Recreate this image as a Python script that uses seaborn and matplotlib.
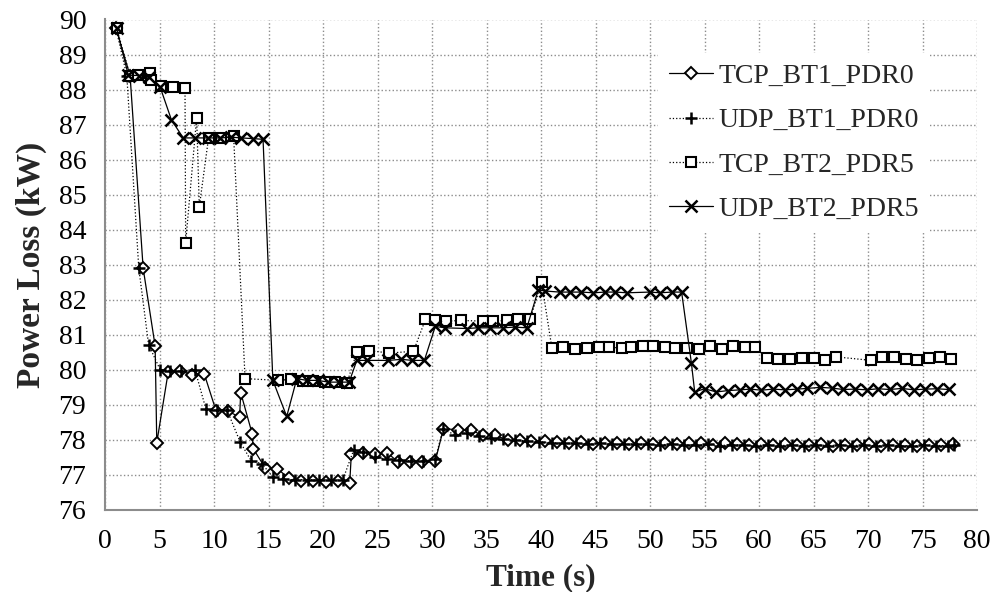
import matplotlib
matplotlib.use("Agg")
import matplotlib.pyplot as plt
import seaborn as sns
import pandas as pd
import numpy as np

# ---------------- data ----------------
series_names = ["TCP_BT1_PDR0", "UDP_BT1_PDR0", "TCP_BT2_PDR5", "UDP_BT2_PDR5"]

tcp1_t = [1.0, 2.3, 3.5, 4.6, 4.75, 5.8, 6.9, 7.95, 9.1, 10.2,
          11.3, 12.35, 12.45, 13.5, 13.6, 14.7, 15.8, 16.9, 18.0, 19.1,
          20.3, 21.4, 22.45, 22.6, 23.7, 24.8, 25.9, 26.9, 28.0, 29.1,
          30.3, 31.05, 32.4, 33.6, 34.7, 35.8, 37.0, 38.1, 39.1, 40.4,
          41.5, 42.6, 43.7, 44.8, 45.9, 47.0, 48.1, 49.2, 50.3, 51.4,
          52.5, 53.6, 54.7, 55.8, 56.9, 58.0, 59.1, 60.2, 61.3, 62.4,
          63.5, 64.6, 65.7, 66.8, 67.9, 69.0, 70.1, 71.2, 72.3, 73.4,
          74.5, 75.6, 76.7, 77.8]
tcp1_v = [89.75, 88.4, 82.9, 80.68, 77.92, 79.94, 79.97, 79.86, 79.89, 78.82,
          78.82, 78.65, 79.35, 78.18, 77.75, 77.2, 77.18, 76.9, 76.82, 76.84,
          76.79, 76.84, 76.76, 77.6, 77.63, 77.6, 77.63, 77.37, 77.37, 77.37,
          77.4, 78.32, 78.29, 78.27, 78.13, 78.13, 77.99, 77.99, 77.97, 77.97,
          77.93, 77.9, 77.93, 77.88, 77.92, 77.9, 77.88, 77.9, 77.87, 77.9,
          77.88, 77.92, 77.9, 77.85, 77.9, 77.88, 77.86, 77.88, 77.85, 77.87,
          77.86, 77.85, 77.88, 77.84, 77.86, 77.85, 77.87, 77.84, 77.85, 77.86,
          77.84, 77.85, 77.86, 77.87]

udp1_t = [1.0, 2.0, 3.1, 4.0, 5.05, 6.0, 7.0, 8.25, 9.27, 10.3,
          11.2, 12.4, 13.4, 14.4, 15.4, 16.3, 17.4, 18.6, 19.6, 20.7,
          21.8, 22.8, 23.7, 24.8, 25.9, 27.0, 28.1, 29.2, 30.3, 31.0,
          32.1, 33.2, 34.3, 35.4, 36.5, 37.6, 38.7, 39.8, 41.0, 42.1,
          43.2, 44.3, 45.4, 46.5, 47.6, 48.7, 49.8, 50.9, 52.0, 53.1,
          54.2, 55.3, 56.4, 57.5, 58.6, 59.7, 60.8, 61.9, 63.0, 64.1,
          65.2, 66.3, 67.4, 68.5, 69.6, 70.7, 71.8, 72.9, 74.0, 75.1,
          76.2, 77.3, 77.9]
udp1_v = [89.75, 88.4, 82.9, 80.72, 80.01, 79.98, 79.97, 80.01, 78.87, 78.85,
          78.85, 77.94, 77.41, 77.32, 76.94, 76.88, 76.86, 76.87, 76.85, 76.86,
          76.85, 77.7, 77.65, 77.5, 77.45, 77.42, 77.4, 77.4, 77.45, 78.3,
          78.15, 78.2, 78.1, 78.05, 78.02, 78.0, 77.97, 77.95, 77.92, 77.9,
          77.9, 77.88, 77.9, 77.88, 77.87, 77.88, 77.87, 77.86, 77.88, 77.86,
          77.85, 77.87, 77.84, 77.86, 77.85, 77.84, 77.86, 77.84, 77.85, 77.84,
          77.86, 77.84, 77.85, 77.84, 77.85, 77.83, 77.85, 77.84, 77.83, 77.85,
          77.84, 77.84, 77.85]

tcp2_t = [1.07, 2.3, 3.06, 4.1, 4.2, 5.1, 6.27, 7.34, 7.4, 8.41,
          8.65, 9.5, 10.6, 11.8, 12.85, 15.9, 17.1, 18.2, 19.1, 20.2,
          21.1, 22.2, 23.1, 24.2, 26.1, 28.3, 29.4, 30.3, 31.3, 32.7,
          34.7, 35.6, 36.9, 37.9, 39.0, 40.05, 41.0, 42.0, 43.1, 44.2,
          45.3, 46.2, 47.4, 48.3, 49.4, 50.3, 51.4, 52.3, 53.4, 54.5,
          55.5, 56.6, 57.6, 58.7, 59.6, 60.7, 61.7, 62.8, 63.9, 65.0,
          66.1, 67.1, 70.3, 71.3, 72.4, 73.5, 74.5, 75.6, 76.6, 77.6]
tcp2_v = [89.75, 88.4, 88.41, 88.46, 88.27, 88.1, 88.08, 88.05, 83.63, 87.2,
          84.65, 86.62, 86.62, 86.67, 79.75, 79.7, 79.73, 79.67, 79.67, 79.64,
          79.64, 79.63, 80.5, 80.55, 80.48, 80.53, 81.44, 81.41, 81.39, 81.41,
          81.39, 81.39, 81.41, 81.46, 81.44, 82.51, 80.62, 80.65, 80.6, 80.62,
          80.65, 80.65, 80.62, 80.65, 80.67, 80.68, 80.65, 80.62, 80.62, 80.6,
          80.67, 80.6, 80.67, 80.65, 80.65, 80.35, 80.32, 80.32, 80.35, 80.35,
          80.29, 80.37, 80.27, 80.37, 80.37, 80.32, 80.27, 80.35, 80.37, 80.32]

udp2_t = [1.07, 2.14, 3.1, 4.0, 5.05, 6.1, 7.18, 8.26, 9.48, 10.55,
          11.6, 12.5, 13.6, 14.5, 15.4, 16.67, 17.6, 18.5, 19.5, 20.5,
          21.5, 22.4, 23.1, 24.0, 26.0, 27.2, 28.2, 29.3, 30.3, 31.2,
          33.2, 34.2, 35.3, 36.5, 37.6, 38.7, 39.75, 40.4, 41.7, 42.7,
          43.7, 44.8, 45.9, 46.8, 47.9, 50.0, 50.9, 52.0, 52.9, 53.8,
          54.1, 55.0, 56.1, 57.2, 58.3, 59.2, 60.2, 61.3, 62.4, 63.5,
          64.4, 65.6, 66.7, 67.7, 68.8, 69.9, 70.9, 72.0, 73.1, 74.2,
          75.2, 76.3, 77.4]
udp2_v = [89.75, 88.41, 88.4, 88.35, 88.08, 87.13, 86.62, 86.62, 86.62, 86.62,
          86.64, 86.62, 86.6, 86.58, 79.7, 78.67, 79.75, 79.7, 79.7, 79.65,
          79.65, 79.65, 80.27, 80.27, 80.27, 80.3, 80.27, 80.27, 81.24, 81.2,
          81.18, 81.2, 81.2, 81.2, 81.22, 81.2, 82.28, 82.25, 82.22, 82.22,
          82.22, 82.2, 82.22, 82.22, 82.2, 82.22, 82.2, 82.22, 82.22, 80.19,
          79.37, 79.46, 79.37, 79.41, 79.43, 79.45, 79.42, 79.45, 79.43, 79.45,
          79.47, 79.5, 79.48, 79.44, 79.45, 79.43, 79.46, 79.44, 79.47, 79.43,
          79.45, 79.46, 79.44]

x_ticks = list(range(0, 81, 5))
y_ticks = list(range(76, 91, 1))

# ---------------- styling ----------------
sns.set_theme(style="white")
plt.rcParams["font.family"] = ["Liberation Serif", "DejaVu Serif"]

frames = []
for name, t, v in zip(series_names,
                      [tcp1_t, udp1_t, tcp2_t, udp2_t],
                      [tcp1_v, udp1_v, tcp2_v, udp2_v]):
    frames.append(pd.DataFrame({"Time": t, "Loss": v, "Series": name}))
df = pd.concat(frames, ignore_index=True)

styles = {
    "TCP_BT1_PDR0": dict(marker="D", ms=6.0, mfc="white", mec="black", mew=1.4, ls="-", lw=0.9),
    "UDP_BT1_PDR0": dict(marker="+", ms=9.0, mfc="none", mec="black", mew=1.8, ls=":", lw=0.9),
    "TCP_BT2_PDR5": dict(marker="s", ms=7.5, mfc="white", mec="black", mew=1.5, ls=":", lw=0.9),
    "UDP_BT2_PDR5": dict(marker="x", ms=8.5, mfc="none", mec="black", mew=1.8, ls="-", lw=0.9),
}

fig = plt.figure(figsize=(9.97, 5.92), dpi=100)
ax = fig.add_axes([105 / 997, 1 - 510 / 592, (977 - 105) / 997, (510 - 19.5) / 592])

for name in series_names:
    st = styles[name]
    sns.lineplot(data=df[df["Series"] == name], x="Time", y="Loss", ax=ax,
                 sort=False, estimator=None, color="black",
                 marker=st["marker"], markersize=st["ms"],
                 markerfacecolor=st["mfc"], markeredgecolor=st["mec"],
                 markeredgewidth=st["mew"], linestyle=st["ls"],
                 linewidth=st["lw"], label=name, legend=False)

ax.set_xlim(0, 80)
ax.set_ylim(76, 90)
ax.set_xticks(x_ticks)
ax.set_yticks(y_ticks)
ax.grid(True, linestyle=":", color="#8c8c8c", linewidth=1.0)
ax.set_axisbelow(True)
for s in ["top", "right"]:
    ax.spines[s].set_visible(False)
for s in ["left", "bottom"]:
    ax.spines[s].set_color("#8c8c8c")
    ax.spines[s].set_linewidth(1.5)
ax.tick_params(axis="both", direction="inout", length=9, width=1.3,
               color="#8c8c8c", labelsize=20, pad=9, labelcolor="black")

ax.set_xlabel("Time (s)", fontsize=22.5, fontweight="bold", labelpad=7)
ax.set_ylabel("Power Loss (kW)", fontsize=24, fontweight="bold", labelpad=8)

handles, labels = ax.get_legend_handles_labels()
leg = ax.legend(handles, labels, loc="upper right",
                bbox_to_anchor=((930 - 105) / 872, (510 - 53) / 490.5),
                fontsize=20, frameon=True, facecolor="white", edgecolor="none",
                framealpha=1.0, fancybox=False, handlelength=1.6,
                handletextpad=0.2, labelspacing=0.68, borderpad=0.38,
                borderaxespad=0.0)

fig.savefig("out.png", dpi=100)
